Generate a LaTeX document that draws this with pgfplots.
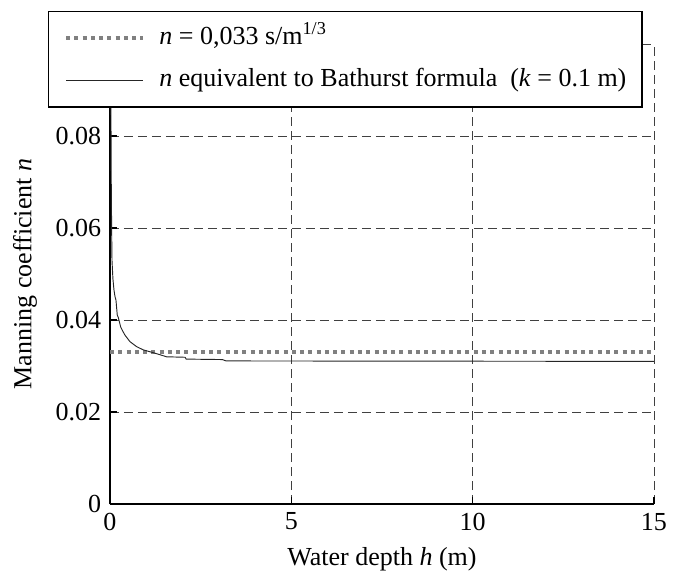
\documentclass[border=0pt]{standalone}
\usepackage{fontspec}
\setmainfont{Liberation Serif}
\usepackage{pgfplots}
\pgfplotsset{compat=1.18}
\newcommand{\ff}{\fontsize{19.5}{23}\selectfont}
\begin{document}
\ff
\begin{tikzpicture}
\useasboundingbox (-82.5pt,-51pt) rectangle (429.75pt,378pt);
\begin{axis}[
  at={(0pt,0pt)}, anchor=south west,
  scale only axis, width=408pt, height=345pt,
  xmin=0, xmax=15, ymin=0, ymax=0.1,
  axis x line*=bottom, axis y line*=left,
  axis line style={black, line width=1pt, -},
  xtick pos=bottom, ytick pos=left,
  tick align=inside, major tick length=5pt,
  tick style={black, line width=0.8pt},
  xtick={0,5,10,15}, xticklabels={0,5,10,15},
  ytick={0,0.02,0.04,0.06,0.08,0.1},
  yticklabels={0,0.02,0.04,0.06,0.08,{}},
  tick label style={font=\ff},
  grid=major,
  major grid style={black!75, line width=0.6pt, dash pattern=on 6.75pt off 3.75pt},
  xlabel={Water depth \textit{h} (m)},
  ylabel={Manning coefficient \textit{n}},
  label style={font=\ff},
  xlabel style={at={(axis description cs:0.5,-0.121)}, anchor=center},
  ylabel style={at={(axis description cs:-0.156,0.5)}, anchor=center},
  legend style={at={(axis description cs:-0.114,1.0717)}, anchor=north west,
    draw=black, line width=1.1pt, fill=white, font=\ff,
    inner xsep=11.5pt, inner ysep=10.5pt, row sep=12.3pt, column sep=10.5pt,
    nodes={inner sep=0pt, text height=14pt, text depth=5pt},
    cells={anchor=west}},
  legend image code/.code={\draw[#1] (0pt,0pt) -- (58pt,0pt);},
]
\addplot[color=black!50, line width=3pt, dash pattern=on 3pt off 3.2pt] coordinates {(0,0.033) (15,0.033)};
\addlegendentry{\textit{n} = 0,033 s/m\textsuperscript{1/3}}
\addplot[color=black!85, line width=0.7pt] coordinates {
(0.012,0.115) (0.02,0.098) (0.028,0.082) (0.035,0.070) (0.045,0.060)
(0.055,0.053) (0.08,0.049) (0.11,0.0465) (0.138,0.0451) (0.165,0.0443)
(0.2,0.0411) (0.23,0.0405) (0.294,0.0385) (0.35,0.0376) (0.414,0.0367)
(0.55,0.0353) (0.735,0.0342) (0.92,0.0335) (1.19,0.0329) (1.4,0.0324)
(1.56,0.0320) (2.07,0.0319) (2.1,0.0315) (3.1,0.0314) (3.2,0.0311) (15,0.0310)};
\addlegendentry{\textit{n} equivalent to Bathurst formula\enspace(\textit{k} = 0.1 m)}
\end{axis}
\end{tikzpicture}
\end{document}
